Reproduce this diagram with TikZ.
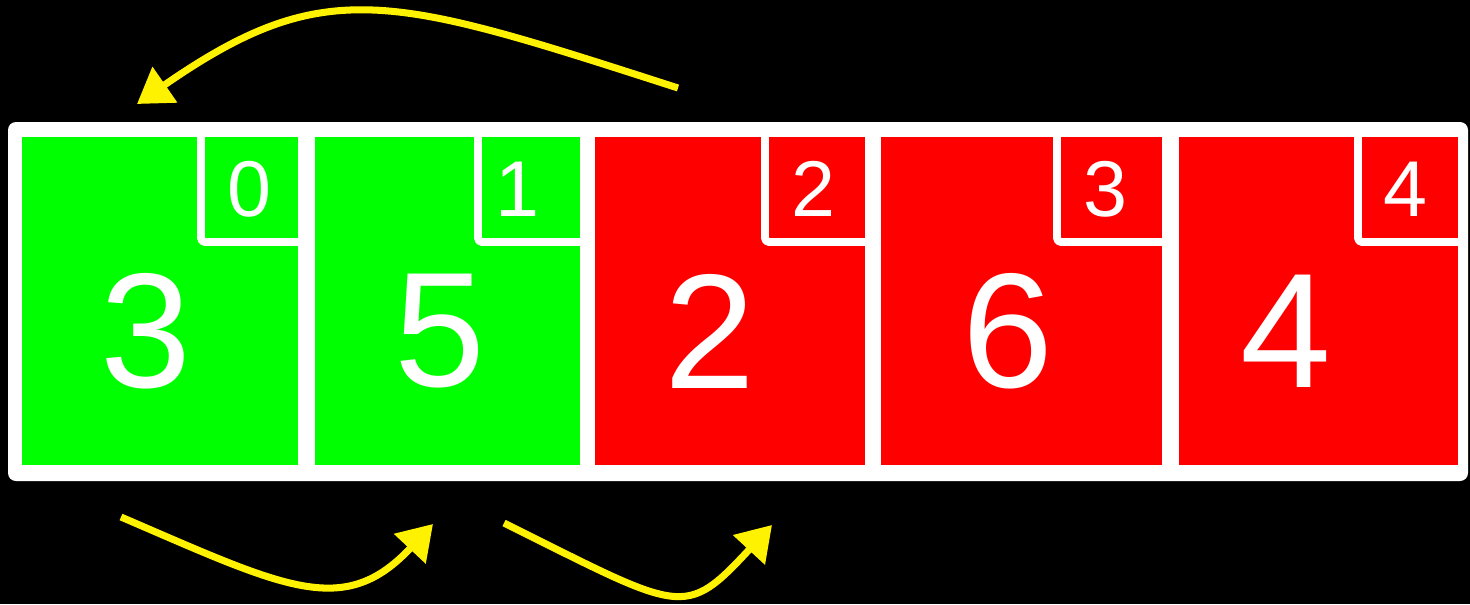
\documentclass[tikz,border=0pt]{standalone}
\usepackage{fontspec}
\setmainfont{Liberation Sans}
\usetikzlibrary{arrows.meta}

\begin{document}
\begin{tikzpicture}[x=0.2mm,y=-0.2mm,line join=round,
  idxline/.style={white,line width=4.5pt,rounded corners=0.8mm},
  moveline/.style={yellow,line width=4pt,-{Triangle[length=6.8mm,width=8.4mm]}},
  bigval/.style={text=white,inner sep=0pt,font=\fontsize{93}{93}\selectfont},
  idxval/.style={text=white,inner sep=0pt,font=\fontsize{45}{45}\selectfont}]
  \useasboundingbox (0,0) rectangle (1470,604);
  \fill[black] (0,0) rectangle (1470,604);
  \fill[white,rounded corners=1.6mm] (8,122) rectangle (1468,481);
  % cells
  \fill[green] (22,137) rectangle (298,465);
  \fill[green] (315,137) rectangle (580,465);
  \fill[red] (595,137) rectangle (865,465);
  \fill[red] (881,137) rectangle (1162,465);
  \fill[red] (1179,137) rectangle (1458,465);
  % index corners
  \draw[idxline] (201,130) -- (201,242) -- (298,242);
  \draw[idxline] (478,130) -- (478,242) -- (580,242);
  \draw[idxline] (765,130) -- (765,242) -- (865,242);
  \draw[idxline] (1057,130) -- (1057,242) -- (1162,242);
  \draw[idxline] (1358,130) -- (1358,242) -- (1458,242);
  % values
  \node[bigval] (v0) at (146,331) {3};
  \node[bigval] (v1) at (440,331) {5};
  \node[bigval] (v2) at (710,331) {2};
  \node[bigval] (v3) at (1008,331) {6};
  \node[bigval] (v4) at (1286,331) {4};
  \node[idxval] (i0) at (249,189) {0};
  \node[idxval] (i1) at (517,189) {1};
  \node[idxval] (i2) at (813,189) {2};
  \node[idxval] (i3) at (1105,189) {3};
  \node[idxval] (i4) at (1405,189) {4};
  % moves
  \coordinate (topS) at (678,88);
  \coordinate (topE) at (137,104);
  \coordinate (lowS) at (121,517);
  \coordinate (lowE) at (433,524);
  \coordinate (midS) at (504,523);
  \coordinate (midE) at (772,525);
  \draw[moveline] (topS) .. controls (392,-4) and (326,-27) .. (topE);
  \draw[moveline] (lowS) .. controls (286,588) and (344,619) .. (lowE);
  \draw[moveline] (midS) .. controls (683,612) and (684,620) .. (midE);
\end{tikzpicture}
\end{document}
